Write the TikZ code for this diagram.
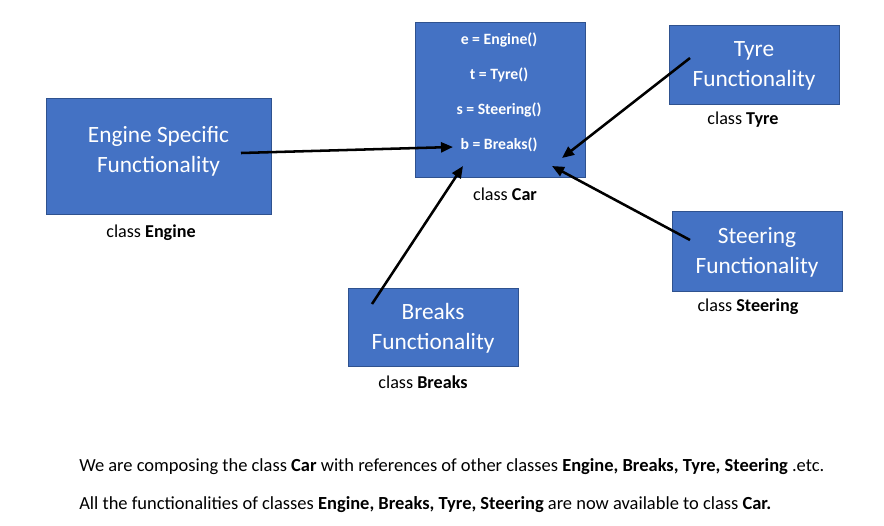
\documentclass[tikz,border=0pt]{standalone}
\usepackage{fontspec}
\setmainfont{Carlito}
\usetikzlibrary{arrows.meta}
\definecolor{boxfill}{HTML}{4472C4}
\definecolor{boxline}{HTML}{2F528F}
\begin{document}
\begin{tikzpicture}[x=0.75pt,y=-0.75pt,
  box/.style={draw=boxline,fill=boxfill,line width=1pt,anchor=north west,inner sep=0pt},
  boxtext/.style={text=white,align=center,font=\fontsize{17.5}{22.5}\selectfont,inner sep=0pt},
  cartext/.style={text=white,font=\fontsize{11.8}{13}\selectfont\bfseries,inner sep=0pt},
  caption/.style={text=black,font=\fontsize{13.6}{15}\selectfont,inner sep=0pt},
  note/.style={text=black,font=\fontsize{13.85}{15}\selectfont,inner sep=0pt,anchor=west},
  link/.style={line width=1.9pt,-{Triangle[length=9pt,width=7.5pt]}}]
\useasboundingbox (0,0) rectangle (884,525);
% boxes
\node[box,minimum width=168.75pt,minimum height=87pt] (engine) at (46,98) {};
\node[box,minimum width=127.5pt,minimum height=116.25pt] (car) at (415,22) {};
\node[box,minimum width=127.5pt,minimum height=59.25pt] (tyre) at (669,25) {};
\node[box,minimum width=127.5pt,minimum height=60pt] (steering) at (672,211) {};
\node[box,minimum width=127.5pt,minimum height=58.5pt] (breaks) at (348,288) {};
% box texts
\node[boxtext] (engineT) at (158.5,151) {Engine Specific\\Functionality};
\node[boxtext] (tyreT) at (754,66) {Tyre\\Functionality};
\node[boxtext] (steeringT) at (757,252.5) {Steering\\Functionality};
\node[boxtext] (breaksT) at (433,328.5) {Breaks\\Functionality};
\node[cartext] (e) at (499,40) {e = Engine()};
\node[cartext] (t) at (499,75) {t = Tyre()};
\node[cartext] (s) at (499,110) {s = Steering()};
\node[cartext] (b) at (499,145) {b = Breaks()};
% captions
\node[caption] (capCar) at (505,194) {class \textbf{Car}};
\node[caption] (capEngine) at (151,233) {class \textbf{Engine}};
\node[caption] (capTyre) at (743,120) {class \textbf{Tyre}};
\node[caption] (capSteering) at (748,307) {class \textbf{Steering}};
\node[caption] (capBreaks) at (423,382) {class \textbf{Breaks}};
% notes
\node[note] (note1) at (79,467) {We are composing the class \textbf{Car} with references of other classes \textbf{Engine, Breaks, Tyre, Steering} .etc.};
\node[note] (note2) at (79,505) {All the functionalities of classes \textbf{Engine, Breaks, Tyre, Steering} are now available to class \textbf{Car.}};
% arrow endpoints
\coordinate (eS) at (241,153);
\coordinate (eE) at (453,147);
\coordinate (bS) at (372,304);
\coordinate (bE) at (463,166);
\coordinate (tS) at (690,58);
\coordinate (tE) at (562,158);
\coordinate (sS) at (690,240);
\coordinate (sE) at (552,166);
\draw[link] (eS) -- (eE);
\draw[link] (bS) -- (bE);
\draw[link] (tS) -- (tE);
\draw[link] (sS) -- (sE);
\end{tikzpicture}
\end{document}
